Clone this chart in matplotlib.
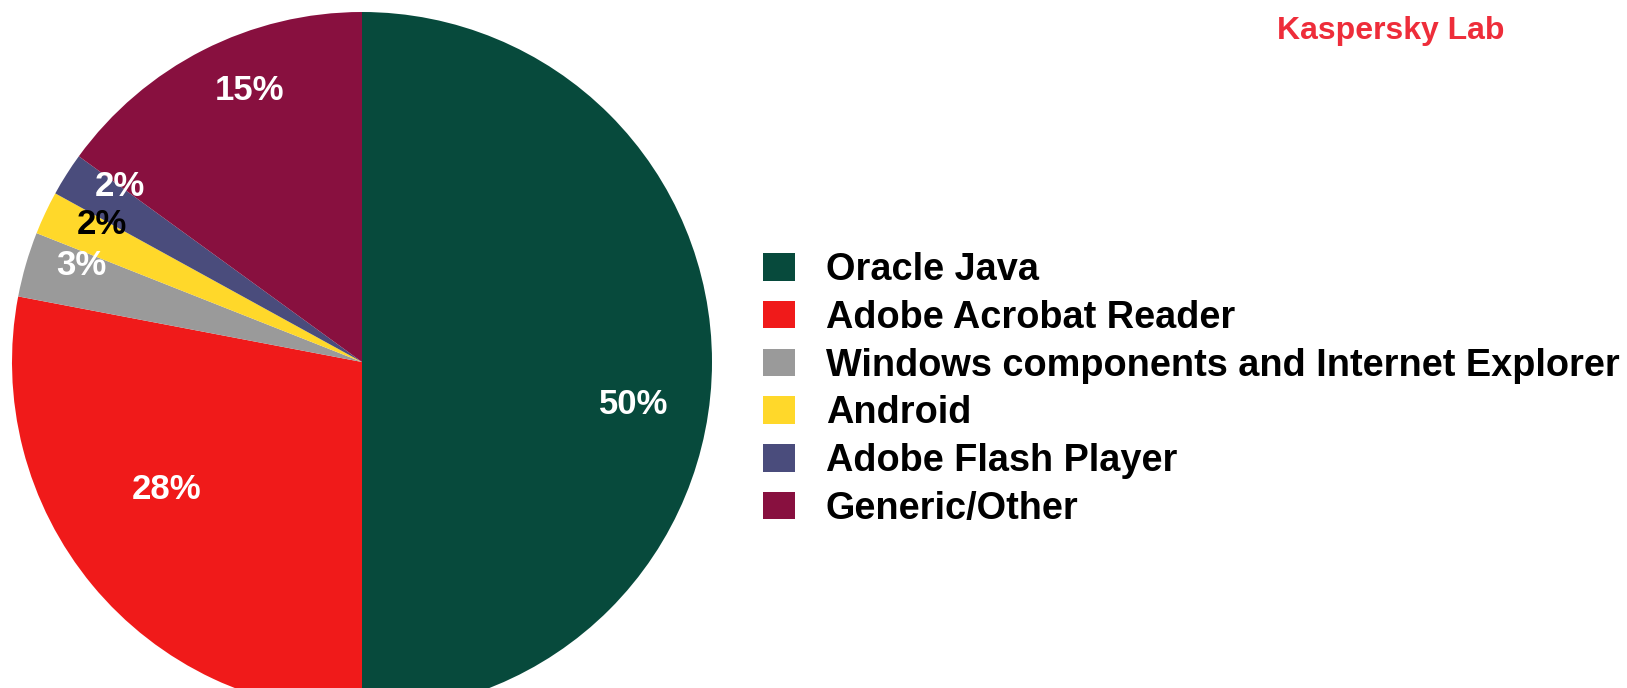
import matplotlib
matplotlib.use('Agg')
import matplotlib.pyplot as plt
import numpy as np

categories = ['Oracle Java', 'Adobe Acrobat Reader', 'Windows components and Internet Explorer',
              'Android', 'Adobe Flash Player', 'Generic/Other']
values = [50, 28, 3, 2, 2, 15]
colors = ['#074A3C', '#F01A1A', '#9A9A9A', '#FFD82A', '#4A4C7C', '#88103F']
label_colors = ['white', 'white', 'white', 'black', 'white', 'white']
label_radius = [0.786, 0.665, 0.848, 0.84, 0.855, 0.84]
label_shift = [-8.8, -6.5, -2.7, -2.6, -3.6, -4.6]
source = 'Kaspersky Lab'

W, H = 1627, 688
fig = plt.figure(figsize=(W / 100, H / 100), dpi=100)
ax = fig.add_axes([0, 0, 1, 1])
cx, cy, R = 362, H - 362, 350
wedges, _ = ax.pie(values, colors=colors, startangle=90, counterclock=False,
                   center=(cx, cy), radius=R, wedgeprops=dict(linewidth=0))
ax.set_xlim(0, W)
ax.set_ylim(0, H)
ax.set_aspect('auto')
ax.axis('off')

for w, v, lc, lr, ls in zip(wedges, values, label_colors, label_radius, label_shift):
    ang = np.deg2rad((w.theta1 + w.theta2) / 2 + ls)
    ax.text(cx + lr * R * np.cos(ang), cy + lr * R * np.sin(ang), f'{v}%',
            ha='center', va='center', color=lc, fontsize=25, fontweight='bold',
            family='Liberation Sans')

fs = 27.3
leg = ax.legend(wedges, categories, loc='upper left',
                bbox_to_anchor=(763 / W, 1 - 252 / H), bbox_transform=fig.transFigure,
                frameon=False, borderpad=0, borderaxespad=0,
                handlelength=0.84, handleheight=0.74, handletextpad=0.82,
                labelspacing=0.31,
                prop=dict(family='Liberation Sans', weight='bold', size=fs))

fig.text(1391 / W, 1 - 31 / H, source, ha='center', va='center', color='#EE2D3A',
         fontsize=23, fontweight='bold', family='Liberation Sans')

fig.savefig('out.png', dpi=100, facecolor='white')
